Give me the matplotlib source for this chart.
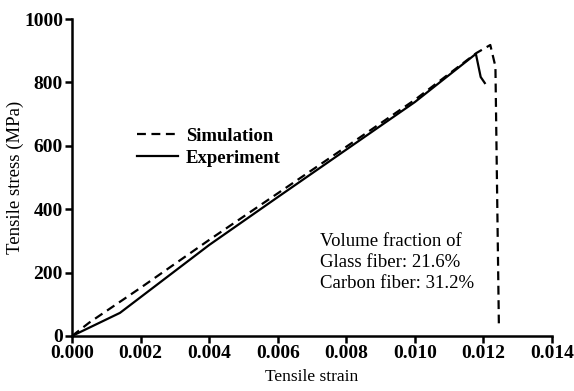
import matplotlib.pyplot as plt

# Simulation curve (dashed)
sim_strain = [0.0, 0.0005, 0.002, 0.004, 0.006, 0.008, 0.010, 0.0118, 0.0122, 0.01235, 0.01245]
sim_stress = [0, 42, 152, 303, 450, 597, 745, 893, 918, 850, 40]

# Experiment curve (solid)
exp_strain = [0.0, 0.0014, 0.004, 0.006, 0.008, 0.010, 0.01178, 0.01192, 0.01204]
exp_stress = [0, 73, 287, 438, 588, 738, 890, 817, 798]

plt.rcParams['font.family'] = ['Liberation Serif', 'DejaVu Serif']

fig = plt.figure(figsize=(5.74, 3.91), dpi=100)
ax = fig.add_axes([72 / 574, 55 / 391, 480 / 574, 317 / 391])

ax.plot(sim_strain, sim_stress, 'k--', lw=1.6, dashes=(4, 2.5), label='Simulation')
ax.plot(exp_strain, exp_stress, 'k-', lw=1.6, label='Experiment')

ax.set_xlim(0, 0.014)
ax.set_ylim(0, 1000)
ax.set_xticks([0.000, 0.002, 0.004, 0.006, 0.008, 0.010, 0.012, 0.014])
ax.set_xticklabels(['0.000', '0.002', '0.004', '0.006', '0.008', '0.010', '0.012', '0.014'])
ax.set_yticks([0, 200, 400, 600, 800, 1000])

for s in ['top', 'right']:
    ax.spines[s].set_visible(False)
for s in ['left', 'bottom']:
    ax.spines[s].set_linewidth(1.8)
ax.tick_params(width=1.8, length=5, labelsize=14, pad=1.5)
for lbl in ax.get_xticklabels() + ax.get_yticklabels():
    lbl.set_fontweight('bold')

ax.set_xlabel('Tensile strain', fontsize=12.5, labelpad=5)
ax.set_ylabel('Tensile stress (MPa)', fontsize=13.5, labelpad=0)

leg = ax.legend(loc='upper left', bbox_to_anchor=(0.1, 0.71), frameon=False,
                handlelength=2.2, handletextpad=0.4, labelspacing=0.25,
                prop={'weight': 'bold', 'size': 13.5})

ax.text(0.517, 0.325, 'Volume fraction of\nGlass fiber: 21.6%\nCarbon fiber: 31.2%',
        transform=ax.transAxes, fontsize=13.5, va='top', linespacing=1.3)

fig.savefig('out.png', dpi=100)
